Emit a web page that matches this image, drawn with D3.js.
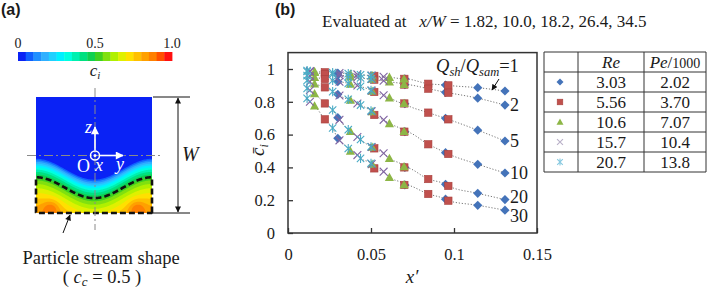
<!DOCTYPE html>
<html><head><meta charset="utf-8">
<script src="https://cdn.jsdelivr.net/npm/d3@7"></script>
<style>
body{margin:0;background:#fff}
svg{display:block}
text{font-family:"Liberation Serif","Times New Roman",serif;fill:#1a1a1a}
</style>
</head><body>
<svg id="c" width="708" height="290"></svg>
<script>
// ---------------- DATA ----------------
const xOverW = [1.82, 10.0, 18.2, 26.4, 34.5];
const qRatios = [1, 2, 5, 10, 20, 30];
const reValues = ["3.03", "5.56", "10.6", "15.7", "20.7"];
const peValues = ["2.02", "3.70", "7.07", "10.4", "13.8"];

// x' of the five evaluation planes, per series
const xPrimeRe303 = [0.0300, 0.0704, 0.0949, 0.1143, 0.1307];
const xPrimeRe556 = [0.0222, 0.0520, 0.0701, 0.0845, 0.0966];
const xPrimeRe106 = [0.0160, 0.0376, 0.0507, 0.0611, 0.0699];
const xPrimeRe157 = [0.0132, 0.0310, 0.0418, 0.0504, 0.0576];
const xPrimeRe207 = [0.0115, 0.0269, 0.0363, 0.0437, 0.0500];

// mean concentration, one row per Q_sh/Q_sam (1,2,5,10,20,30)
const cRe303 = [
  [0.975, 0.940, 0.902, 0.886, 0.866],
  [0.963, 0.905, 0.858, 0.822, 0.780],
  [0.923, 0.788, 0.699, 0.627, 0.561],
  [0.845, 0.618, 0.490, 0.419, 0.366],
  [0.703, 0.400, 0.297, 0.242, 0.204],
  [0.577, 0.293, 0.206, 0.169, 0.139]];
const cRe556 = [
  [0.980, 0.958, 0.940, 0.910, 0.900],
  [0.970, 0.935, 0.905, 0.880, 0.855],
  [0.939, 0.860, 0.790, 0.734, 0.693],
  [0.888, 0.720, 0.618, 0.541, 0.482],
  [0.790, 0.516, 0.400, 0.329, 0.287],
  [0.693, 0.394, 0.293, 0.238, 0.197]];
const cRe106 = [
  [0.985, 0.970, 0.960, 0.950, 0.940],
  [0.979, 0.952, 0.939, 0.922, 0.906],
  [0.950, 0.908, 0.866, 0.825, 0.790],
  [0.910, 0.810, 0.740, 0.668, 0.620],
  [0.850, 0.620, 0.524, 0.455, 0.405],
  [0.776, 0.500, 0.420, 0.340, 0.295]];
const cRe157 = [
  [0.988, 0.975, 0.967, 0.960, 0.953],
  [0.983, 0.962, 0.950, 0.940, 0.928],
  [0.957, 0.922, 0.900, 0.868, 0.840],
  [0.923, 0.838, 0.790, 0.742, 0.690],
  [0.870, 0.690, 0.585, 0.524, 0.486],
  [0.800, 0.565, 0.475, 0.420, 0.374]];
const cRe207 = [
  [0.990, 0.978, 0.972, 0.965, 0.960],
  [0.985, 0.968, 0.955, 0.945, 0.940],
  [0.960, 0.930, 0.912, 0.894, 0.870],
  [0.930, 0.862, 0.815, 0.780, 0.745],
  [0.882, 0.750, 0.630, 0.570, 0.526],
  [0.821, 0.640, 0.515, 0.455, 0.425]];

const xTicks = [0, 0.05, 0.1, 0.15];
const xTickLabels = ["0", "0.05", "0.1", "0.15"];
const yTicks = [0, 0.2, 0.4, 0.6, 0.8, 1];
const yTickLabels = ["0", "0.2", "0.4", "0.6", "0.8", "1"];

const cbTicks = [0, 0.5, 1.0];
const cbTickLabels = ["0", "0.5", "1.0"];
const cbColors = ["#0a22f5","#1060ff","#2090ff","#30b0ff","#20d0ff","#00f0ff","#00ffe0","#00f0b0",
  "#00e080","#10d050","#40d020","#80e010","#b0f000","#e0f000","#ffe000","#ffc000","#ffa000",
  "#ff8000","#ff5000","#ff1010"];

// ---------------- SETUP ----------------
const svg = d3.select("#c");
svg.append("rect").attr("width", 708).attr("height", 290).attr("fill", "#fff");
const defs = svg.append("defs");
function arrowDef(id, color, w, h) {
  defs.append("marker").attr("id", id).attr("viewBox", "0 0 10 10").attr("refX", 9).attr("refY", 5)
    .attr("markerWidth", w).attr("markerHeight", h).attr("orient", "auto-start-reverse")
    .attr("markerUnits", "userSpaceOnUse")
    .append("path").attr("d", "M0,0L10,5L0,10Z").attr("fill", color);
}
arrowDef("ab", "#111", 9, 6);
arrowDef("aw", "#fff", 9, 8);
arrowDef("as", "#111", 7, 6);

svg.append("text").attr("x", 1).attr("y", 15).text("(a)")
  .style("font-family", "Arial, 'Liberation Sans', sans-serif").style("font-weight", "bold").style("font-size", "16px");
svg.append("text").attr("x", 275).attr("y", 15).text("(b)")
  .style("font-family", "Arial, 'Liberation Sans', sans-serif").style("font-weight", "bold").style("font-size", "16px");

// ---------------- PANEL (a) ----------------
const cbX = d3.scaleLinear([0, 1], [18, 172]);
const gA = svg.append("g");
cbColors.forEach((col, i) => {
  gA.append("rect").attr("x", cbX(i / cbColors.length)).attr("y", 52)
    .attr("width", cbX((i + 1) / cbColors.length) - cbX(i / cbColors.length) + 0.4)
    .attr("height", 9).attr("fill", col);
});
cbTicks.forEach((t, i) => {
  gA.append("text").attr("x", cbX(t)).attr("y", 48).attr("text-anchor", "middle")
    .style("font-size", "14px").text(cbTickLabels[i]);
});
const ciT = gA.append("text").attr("x", 95).attr("y", 76).attr("text-anchor", "middle").style("font-size", "17px");
ciT.append("tspan").style("font-style", "italic").text("c");
ciT.append("tspan").style("font-style", "italic").style("font-size", "11px").attr("dy", 3).text("i");

// concentration field schematic
const sq = {x: 36, y: 97, s: 116};
const n = 116;
const field = new Float64Array(n * n);
for (let j = 0; j < n; j++) for (let i = 0; i < n; i++) {
  const u = (i + 0.5) / n, v = (j + 0.5) / n;
  const v0 = 0.52 + 0.18 * (1 - Math.cos(2 * Math.PI * u)) / 2;
  const d = v - v0;
  let c = d <= 0 ? 0 : 0.95 * (1 - Math.exp(-d / 0.23));
  c += 0.10 * Math.exp(-((u - 0.13) ** 2 + (v - 0.96) ** 2) / (2 * 0.05 * 0.05));
  c += 0.10 * Math.exp(-((u - 0.87) ** 2 + (v - 0.96) ** 2) / (2 * 0.05 * 0.05));
  field[j * n + i] = c;
}
defs.append("clipPath").attr("id", "sqclip").append("rect")
  .attr("x", sq.x).attr("y", sq.y).attr("width", sq.s).attr("height", sq.s);
const gF = gA.append("g").attr("clip-path", "url(#sqclip)");
gF.append("rect").attr("x", sq.x).attr("y", sq.y).attr("width", sq.s).attr("height", sq.s).attr("fill", cbColors[0]);
const thr = d3.range(1, 20).map(k => k * 0.05);
const geo = d3.geoPath(d3.geoIdentity().scale(sq.s / n).translate([sq.x, sq.y]));
const conts = d3.contours().size([n, n]).thresholds(thr)(field);
conts.forEach((ct, k) => {
  gF.append("path").attr("d", geo(ct)).attr("fill", cbColors[k + 1]);
});
const half = d3.contours().size([n, n]).thresholds([0.5])(field)[0];
gA.append("path").attr("d", geo(half)).attr("fill", "none").attr("stroke", "#111")
  .attr("stroke-width", 2.6).attr("stroke-dasharray", "6,3");

// dash-dot centre lines
gA.append("line").attr("x1", 95).attr("x2", 95).attr("y1", 88).attr("y2", 230)
  .attr("stroke", "#8a8a8a").attr("stroke-width", 1).attr("stroke-dasharray", "9,3,2,3");
gA.append("line").attr("x1", 27).attr("x2", 163).attr("y1", 155.5).attr("y2", 155.5)
  .attr("stroke", "#8a8a8a").attr("stroke-width", 1).attr("stroke-dasharray", "9,3,2,3");

// white coordinate system
gA.append("circle").attr("cx", 95).attr("cy", 155.5).attr("r", 4.5).attr("fill", "none").attr("stroke", "#fff").attr("stroke-width", 1.5);
gA.append("circle").attr("cx", 95).attr("cy", 155.5).attr("r", 1.5).attr("fill", "#fff");
gA.append("line").attr("x1", 95).attr("x2", 95).attr("y1", 150.5).attr("y2", 127)
  .attr("stroke", "#fff").attr("stroke-width", 1.6).attr("marker-end", "url(#aw)");
gA.append("line").attr("x1", 100).attr("x2", 123).attr("y1", 155.5).attr("y2", 155.5)
  .attr("stroke", "#fff").attr("stroke-width", 1.6).attr("marker-end", "url(#aw)");
[["z", 85, 133, true], ["O", 77, 172, false], ["x", 95, 171, true], ["y", 116, 170, true]].forEach(([t, x, y, it]) => {
  gA.append("text").attr("x", x).attr("y", y).text(t).style("fill", "#fff").style("font-size", "18px")
    .style("font-style", it ? "italic" : "normal");
});

// dimension W
gA.append("line").attr("x1", 153).attr("x2", 190).attr("y1", 97).attr("y2", 97).attr("stroke", "#111").attr("stroke-width", 1);
gA.append("line").attr("x1", 153).attr("x2", 190).attr("y1", 213).attr("y2", 213).attr("stroke", "#111").attr("stroke-width", 1);
gA.append("line").attr("x1", 178).attr("x2", 178).attr("y1", 98).attr("y2", 212).attr("stroke", "#111").attr("stroke-width", 1)
  .attr("marker-start", "url(#ab)").attr("marker-end", "url(#ab)");
gA.append("text").attr("x", 182).attr("y", 161).text("W").style("font-style", "italic").style("font-size", "20px");

// particle stream label
gA.append("line").attr("x1", 63).attr("y1", 233).attr("x2", 70).attr("y2", 215).attr("stroke", "#111").attr("stroke-width", 1)
  .attr("marker-end", "url(#as)");
gA.append("text").attr("x", 101).attr("y", 264).attr("text-anchor", "middle").style("font-size", "18.5px").text("Particle stream shape");
const cc = gA.append("text").attr("x", 102).attr("y", 283).attr("text-anchor", "middle").style("font-size", "18.5px");
cc.append("tspan").text("(\u00a0");
cc.append("tspan").style("font-style", "italic").text("c");
cc.append("tspan").style("font-style", "italic").style("font-size", "13px").attr("dy", 3).text("c");
cc.append("tspan").attr("dy", -3).text("\u00a0= 0.5\u00a0)");

// ---------------- PANEL (b) ----------------
const x = d3.scaleLinear([0, 0.15], [288, 537]);
const y = d3.scaleLinear([0, 1.1], [233, 52.6]);
const gB = svg.append("g");

const title = gB.append("text").attr("x", 322).attr("y", 27).style("font-size", "17px");
title.append("tspan").text("Evaluated at\u00a0\u00a0\u00a0");
title.append("tspan").style("font-style", "italic").text("x/W");
title.append("tspan").text("\u00a0= " + xOverW.map(v => v.toFixed(v < 10 ? 2 : 1)).join(", "));

const series = [
  {x: xPrimeRe303, c: cRe303, type: "diamond", color: "#4473B9"},
  {x: xPrimeRe556, c: cRe556, type: "square", color: "#C0504D"},
  {x: xPrimeRe106, c: cRe106, type: "triangle", color: "#8DB646"},
  {x: xPrimeRe157, c: cRe157, type: "cross", color: "#8064A2"},
  {x: xPrimeRe207, c: cRe207, type: "star", color: "#4BACC6"}];

// axes
const ax = gB.append("g").attr("transform", "translate(0,233)")
  .call(d3.axisBottom(x).tickValues(xTicks).tickFormat((d, i) => xTickLabels[i]).tickSizeInner(-5).tickSizeOuter(0).tickPadding(15));
const ay = gB.append("g").attr("transform", "translate(288,0)")
  .call(d3.axisLeft(y).tickValues(yTicks).tickFormat((d, i) => yTickLabels[i]).tickSizeInner(-5).tickSizeOuter(0).tickPadding(13));
[ax, ay].forEach(a => {
  a.select(".domain").remove();
  a.selectAll("line").attr("stroke", "#333").attr("stroke-width", 1.3);
  a.selectAll("text").style("font-family", "'Liberation Serif',serif").style("font-size", "16.5px").attr("fill", "#1a1a1a");
});
gB.append("rect").attr("x", x(0)).attr("y", y(1.1)).attr("width", x(0.15) - x(0)).attr("height", y(0) - y(1.1))
  .attr("fill", "none").attr("stroke", "#333").attr("stroke-width", 1.5);

// axis titles
const yl = gB.append("text").attr("transform", "translate(264,150) rotate(-90)").attr("text-anchor", "middle").style("font-size", "19px");
yl.append("tspan").style("font-style", "italic").text("c\u0304");
yl.append("tspan").style("font-style", "italic").style("font-size", "12px").attr("dy", 4).text("i");
gB.append("text").attr("x", 412).attr("y", 283).attr("text-anchor", "middle").style("font-size", "19px")
  .style("font-style", "italic").text("x\u2032");

// dotted connecting lines, one per Q
const line = d3.line().x(d => x(d[0])).y(d => y(d[1])).curve(d3.curveMonotoneX);
qRatios.forEach((q, qi) => {
  const pts = [];
  series.forEach(s => s.x.forEach((xv, k) => pts.push([xv, s.c[qi][k]])));
  pts.sort((a, b) => a[0] - b[0]);
  gB.append("path").attr("d", line(pts)).attr("fill", "none").attr("stroke", "#777")
    .attr("stroke-width", 1).attr("stroke-dasharray", "1.2,1.8");
});

function marker(g, type, color, cx, cy, r) {
  if (type === "diamond") g.append("path").attr("d", `M${cx},${cy - r}L${cx + r},${cy}L${cx},${cy + r}L${cx - r},${cy}Z`).attr("fill", color);
  else if (type === "square") g.append("rect").attr("x", cx - r * 0.8).attr("y", cy - r * 0.8).attr("width", r * 1.6).attr("height", r * 1.6)
    .attr("fill", color).attr("stroke", "#a8403d").attr("stroke-width", 0.6);
  else if (type === "triangle") g.append("path").attr("d", `M${cx},${cy - r}L${cx + r},${cy + r * 0.8}L${cx - r},${cy + r * 0.8}Z`).attr("fill", color);
  else if (type === "cross") g.append("path").attr("d", `M${cx - r * 0.85},${cy - r * 0.85}L${cx + r * 0.85},${cy + r * 0.85}M${cx - r * 0.85},${cy + r * 0.85}L${cx + r * 0.85},${cy - r * 0.85}`)
    .attr("stroke", color).attr("stroke-width", 1.1).attr("fill", "none");
  else if (type === "star") g.append("path").attr("d", `M${cx - r * 0.8},${cy - r * 0.8}L${cx + r * 0.8},${cy + r * 0.8}M${cx - r * 0.8},${cy + r * 0.8}L${cx + r * 0.8},${cy - r * 0.8}M${cx},${cy - r}L${cx},${cy + r}`)
    .attr("stroke", color).attr("stroke-width", 1.1).attr("fill", "none");
}
const gM = gB.append("g");
series.forEach(s => {
  s.c.forEach(row => row.forEach((cv, k) => marker(gM, s.type, s.color, x(s.x[k]), y(cv), 4.6)));
});

// curve labels
const blue = series[0];
const labelDy = [0, 0, 0, 0, -2.5, 5.5];
qRatios.forEach((q, qi) => {
  if (qi === 0) return;
  gB.append("text").attr("x", x(blue.x[4]) + 5).attr("y", y(blue.c[qi][4]) + labelDy[qi]).attr("dy", "0.35em")
    .style("font-size", "18px").text(String(q));
});
const ann = gB.append("text").attr("x", 436).attr("y", 72).style("font-size", "18.5px");
ann.append("tspan").style("font-style", "italic").text("Q");
ann.append("tspan").style("font-style", "italic").style("font-size", "12.5px").attr("dy", 4).text("sh");
ann.append("tspan").attr("dy", -4).text("/");
ann.append("tspan").style("font-style", "italic").text("Q");
ann.append("tspan").style("font-style", "italic").style("font-size", "12.5px").attr("dy", 4).text("sam");
ann.append("tspan").attr("dy", -4).text("=" + qRatios[0]);
gB.append("line").attr("x1", 499).attr("y1", 79).attr("x2", 492).attr("y2", 90).attr("stroke", "#111").attr("stroke-width", 1)
  .attr("marker-end", "url(#as)");

// legend table
const colX = [544, 578, 644, 706];
const rowY = d3.range(7).map(i => 52 + i * 20);
const gT = gB.append("g");
colX.forEach(cx => gT.append("line").attr("x1", cx).attr("x2", cx).attr("y1", rowY[0]).attr("y2", rowY[6]).attr("stroke", "#333").attr("stroke-width", 1));
rowY.forEach(ry => gT.append("line").attr("x1", colX[0]).attr("x2", colX[3]).attr("y1", ry).attr("y2", ry).attr("stroke", "#333").attr("stroke-width", 1));
gT.append("text").attr("x", (colX[1] + colX[2]) / 2).attr("y", rowY[0] + 15.5).attr("text-anchor", "middle")
  .style("font-size", "17px").style("font-style", "italic").text("Re");
const peh = gT.append("text").attr("x", (colX[2] + colX[3]) / 2).attr("y", rowY[0] + 15.5).attr("text-anchor", "middle").style("font-size", "17px");
peh.append("tspan").style("font-style", "italic").text("Pe");
peh.append("tspan").text("/");
peh.append("tspan").style("font-size", "14px").text("1000");
const legColors = ["#4473B9", "#C0504D", "#8DB646", "#b9b0c8", "#86c9e0"];
series.forEach((s, i) => {
  const cy = rowY[i + 1] + 10;
  marker(gT, s.type, legColors[i], (colX[0] + colX[1]) / 2 - 1, cy, 3.5);
  gT.append("text").attr("x", (colX[1] + colX[2]) / 2).attr("y", cy + 5.5).attr("text-anchor", "middle").style("font-size", "17px").text(reValues[i]);
  gT.append("text").attr("x", (colX[2] + colX[3]) / 2).attr("y", cy + 5.5).attr("text-anchor", "middle").style("font-size", "17px").text(peValues[i]);
});
</script>
</body></html>
